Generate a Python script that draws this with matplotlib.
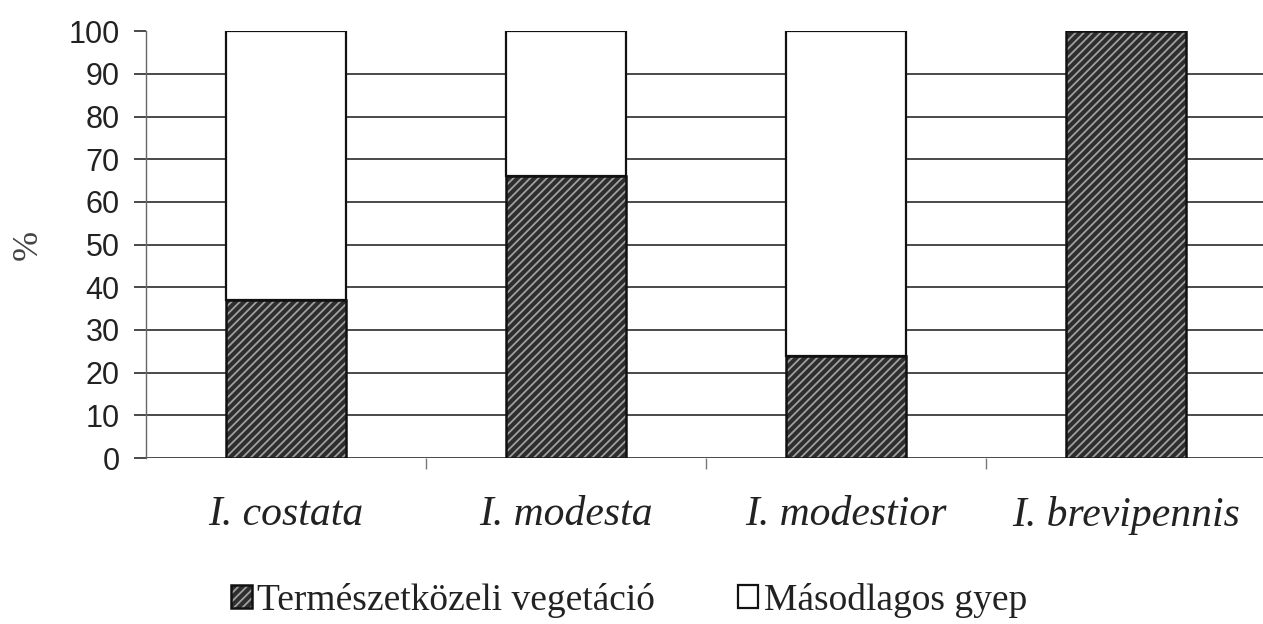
import matplotlib
matplotlib.use("Agg")
import matplotlib.pyplot as plt
from matplotlib.legend_handler import HandlerTuple

categories = ["I. costata", "I. modesta", "I. modestior", "I. brevipennis"]
natural = [37, 66, 24, 100]          # Természetközeli vegetáció
secondary = [63, 34, 76, 0]          # Másodlagos gyep
yticks = [0, 10, 20, 30, 40, 50, 60, 70, 80, 90, 100]
series_names = ["Természetközeli vegetáció", "Másodlagos gyep"]

plt.rcParams["hatch.linewidth"] = 1.3

fig = plt.figure(figsize=(12.63, 6.24), dpi=100)
ax = fig.add_axes([0.1156, 0.266, 0.8868, 0.684])

x = list(range(len(categories)))
w = 0.43

# gridlines (no line at 100)
for t in yticks[:-1]:
    ax.axhline(t, color="#4a4a4a", lw=1.4, zorder=1)

hb = ax.bar(x, natural, w, facecolor="#2e2e2e", edgecolor="#a0a0a0", lw=0,
            hatch="////", zorder=2)
he = ax.bar(x, natural, w, facecolor="none", edgecolor="#111111", lw=1.8, zorder=3)
wb = ax.bar(x, secondary, w, bottom=natural, facecolor="white", edgecolor="#111111",
            lw=1.6, zorder=2)

ax.set_xlim(-0.5, 3.5)
ax.set_ylim(0, 100)
ax.set_yticks(yticks)
ax.set_yticklabels([str(t) for t in yticks], family="Liberation Sans", fontsize=22,
                   color="#222222")
ax.tick_params(axis="y", direction="out", length=9, width=1.4, color="#4a4a4a", pad=10)

ax.set_xticks(x)
ax.set_xticklabels(categories, family="Liberation Serif", style="italic", fontsize=30,
                   color="#222222")
ax.tick_params(axis="x", which="major", length=0, pad=27)
ax.set_xticks([0.5, 1.5, 2.5], minor=True)
ax.tick_params(axis="x", which="minor", direction="out", length=8, width=1.0,
               color="#777777")

for s in ["top", "right", "bottom"]:
    ax.spines[s].set_visible(False)
ax.spines["left"].set_color("#666666")
ax.spines["left"].set_linewidth(1.0)

ax.set_ylabel("%", family="Liberation Serif", fontsize=26, color="#444444", labelpad=17)

leg = fig.legend([(hb[0], he[0]), wb[0]], series_names,
                 handler_map={tuple: HandlerTuple(ndivide=1, pad=0)},
                 loc="center", bbox_to_anchor=(0.498, 0.038), ncol=2, frameon=False,
                 prop={"family": "Liberation Serif", "size": 27},
                 handlelength=0.55, handleheight=0.55, handletextpad=0.15,
                 columnspacing=2.2, labelcolor="#222222")

fig.savefig("out.png", dpi=100)
